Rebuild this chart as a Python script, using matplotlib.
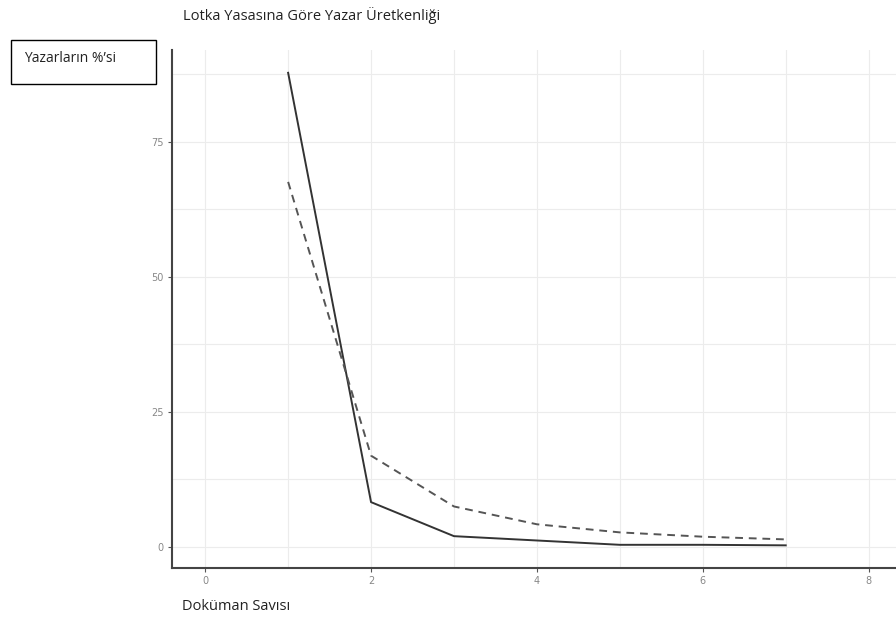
import matplotlib.pyplot as plt
from matplotlib.patches import Rectangle

# Lotka verisi: doküman sayısı ve yazar yüzdeleri
dokuman = [1, 2, 3, 4, 5, 6, 7]
gozlenen = [87.8, 8.3, 2.0, 1.2, 0.4, 0.4, 0.3]
teorik = [67.6, 16.9, 7.5, 4.2, 2.7, 1.9, 1.4]

x_ticks = [0, 2, 4, 6, 8]
y_ticks = [0, 25, 50, 75]

fig = plt.figure(figsize=(8.96, 6.21), dpi=100)
ax = fig.add_axes([0.192, 0.0853, 0.808, 0.834])

ax.plot(dokuman, gozlenen, color='#333333', linewidth=1.4, linestyle='-')
ax.plot(dokuman, teorik, color='#555555', linewidth=1.4, linestyle=(0, (4, 3)))

ax.set_xlim(-0.4, 8.33)
ax.set_ylim(-3.9, 92)
ax.set_xticks(x_ticks)
ax.set_yticks(y_ticks)
ax.set_xticks([1, 3, 5, 7], minor=True)
ax.set_yticks([12.5, 37.5, 62.5, 87.5], minor=True)
ax.grid(True, which='both', color='#ececec', linewidth=0.8)
ax.set_axisbelow(True)

ax.tick_params(axis='both', which='major', labelsize=7, labelcolor='#888888',
               color='#555555', length=3, width=0.8, pad=3)
ax.tick_params(axis='both', which='minor', length=0)
for s in ['top', 'right']:
    ax.spines[s].set_visible(False)
for s in ['left', 'bottom']:
    ax.spines[s].set_color('#444444')
    ax.spines[s].set_linewidth(1.5)

fig.text(183 / 896, 1 - 15 / 621, 'Lotka Yasasına Göre Yazar Üretkenliği',
         fontsize=10.5, family='Open Sans', color='#222222', ha='left', va='center')
fig.text(182 / 896, 1 - 607 / 621, 'Doküman Savısı',
         fontsize=10.5, family='Open Sans', color='#222222', ha='left', va='center')

fig.patches.append(Rectangle((11 / 896, 1 - 84 / 621), 145 / 896, 44 / 621,
                             transform=fig.transFigure, fill=False,
                             edgecolor='black', linewidth=1.0))
fig.text(24 / 896, 1 - 58 / 621, 'Yazarların %’si',
         fontsize=10, family='Open Sans', color='#222222', ha='left', va='center')

plt.savefig('out.png', dpi=100)
